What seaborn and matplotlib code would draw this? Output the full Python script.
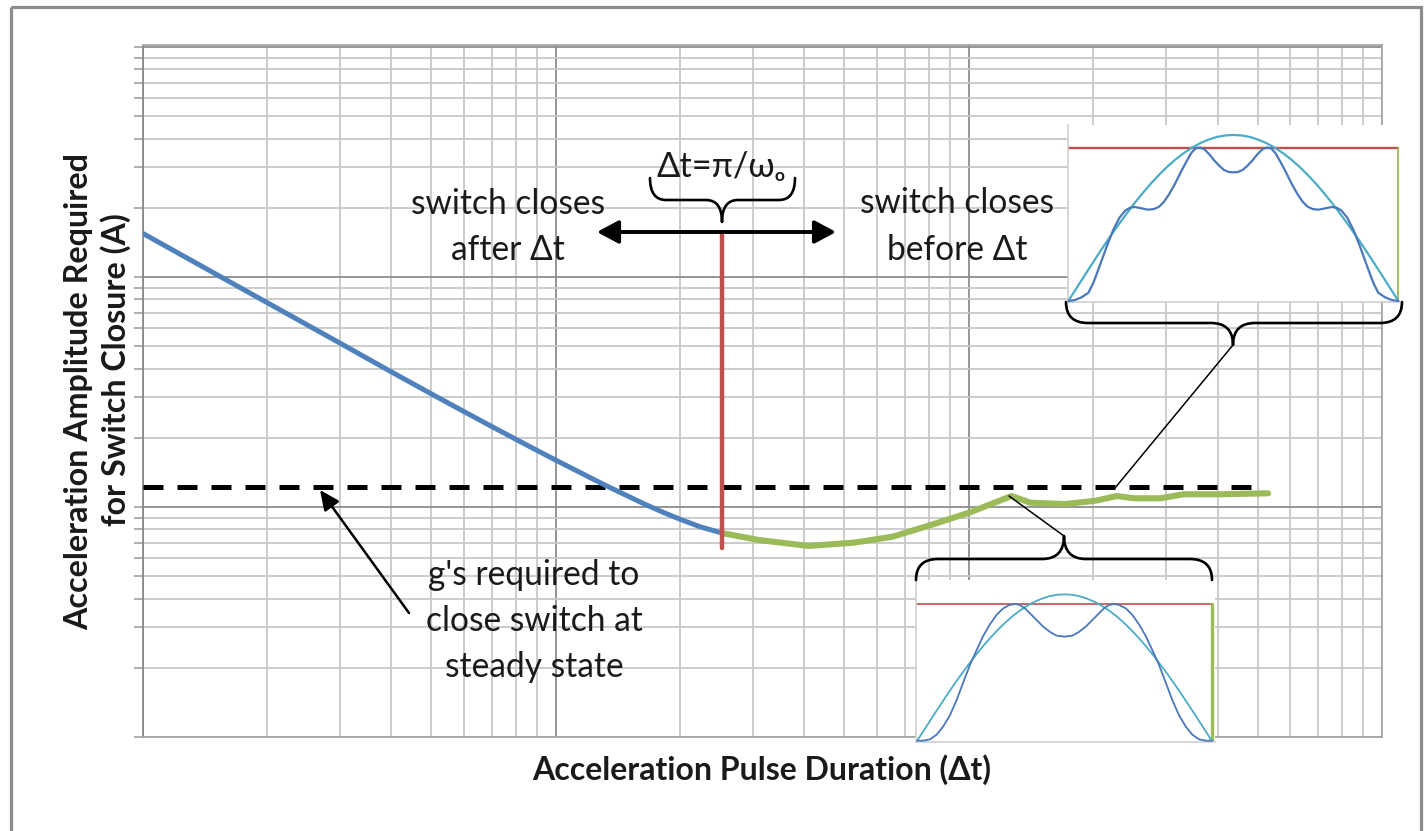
import matplotlib
matplotlib.use("Agg")
import matplotlib.pyplot as plt
import seaborn as sns
from matplotlib.path import Path
from matplotlib.patches import PathPatch, Rectangle, FancyArrowPatch, ArrowStyle
from matplotlib.lines import Line2D
from matplotlib.transforms import Affine2D
from matplotlib.ticker import LogLocator, NullFormatter

# ---------------- data ----------------
pulse_blue = [1.0, 1.516, 2.02, 3.005, 4.0, 4.99, 6.02, 7.03, 8.48, 10.0, 13.18, 16.44, 18.2, 20.05, 22.39, 25.3]
amp_blue = [155, 102.2, 76.7, 51.6, 38.7, 31.1, 25.9, 22.3, 18.66, 15.99, 12.43, 10.28, 9.48, 8.83, 8.2, 7.7]

pulse_green = [25.3, 30.95, 40.9, 52.8, 65.4, 80.9, 100.2, 126.8, 141, 171, 202.6, 228, 251, 291, 331, 410.6, 530]
amp_green = [7.7, 7.19, 6.77, 7.0, 7.43, 8.35, 9.45, 11.16, 10.44, 10.3, 10.65, 11.16, 10.91, 10.91, 11.36, 11.36, 11.47]

steady_amp = 12.25
steady_pulse = [1.0, 513]

natural_pulse = 25.3          # dt = pi / w0
natural_amp = [6.63, 155]

# inset waveforms (time fraction, normalised amplitude)
sine_t = [0, 0.025, 0.05, 0.075, 0.1, 0.125, 0.15, 0.175, 0.2, 0.225, 0.25, 0.275, 0.3, 0.325, 0.35,
          0.375, 0.4, 0.425, 0.45, 0.475, 0.5, 0.525, 0.55, 0.575, 0.6, 0.625, 0.65, 0.675, 0.7,
          0.725, 0.75, 0.775, 0.8, 0.825, 0.85, 0.875, 0.9, 0.925, 0.95, 0.975, 1.0]
sine_a = [0, 0.078, 0.156, 0.233, 0.309, 0.383, 0.454, 0.522, 0.588, 0.649, 0.707, 0.760, 0.809, 0.853,
          0.891, 0.924, 0.951, 0.972, 0.988, 0.997, 1.0, 0.997, 0.988, 0.972, 0.951, 0.924, 0.891,
          0.853, 0.809, 0.760, 0.707, 0.649, 0.588, 0.522, 0.454, 0.383, 0.309, 0.233, 0.156, 0.078, 0]

resp1_t = [0, 0.020, 0.040, 0.061, 0.076, 0.096, 0.116, 0.136, 0.155, 0.172, 0.187, 0.202, 0.222, 0.242,
           0.260, 0.275, 0.290, 0.306, 0.323, 0.340, 0.357, 0.372, 0.386, 0.399, 0.412, 0.427, 0.442,
           0.458, 0.472, 0.486, 0.5, 0.514, 0.528, 0.542, 0.558, 0.573, 0.588, 0.601, 0.614, 0.628,
           0.643, 0.660, 0.677, 0.694, 0.710, 0.725, 0.740, 0.758, 0.778, 0.798, 0.813, 0.828, 0.845,
           0.864, 0.884, 0.904, 0.924, 0.939, 0.960, 0.980, 1.0]
resp1_a = [0, 0.006, 0.022, 0.050, 0.110, 0.217, 0.327, 0.428, 0.502, 0.544, 0.562, 0.566, 0.558, 0.550,
           0.554, 0.568, 0.598, 0.645, 0.705, 0.773, 0.837, 0.890, 0.920, 0.924, 0.914, 0.884, 0.847,
           0.813, 0.789, 0.777, 0.775, 0.777, 0.789, 0.813, 0.847, 0.884, 0.914, 0.924, 0.920, 0.890,
           0.837, 0.773, 0.705, 0.645, 0.598, 0.568, 0.554, 0.550, 0.558, 0.566, 0.562, 0.544, 0.502,
           0.428, 0.327, 0.217, 0.110, 0.050, 0.022, 0.006, 0]
thresh1 = 0.924

resp2_t = [0, 0.020, 0.043, 0.066, 0.088, 0.111, 0.134, 0.156, 0.179, 0.202, 0.224, 0.247, 0.270, 0.292,
           0.313, 0.332, 0.349, 0.366, 0.383, 0.405, 0.428, 0.451, 0.473, 0.5, 0.527, 0.549, 0.572,
           0.595, 0.617, 0.634, 0.651, 0.668, 0.687, 0.708, 0.730, 0.753, 0.776, 0.798, 0.821, 0.844,
           0.866, 0.889, 0.912, 0.934, 0.957, 0.980, 1.0]
resp2_a = [0, 0, 0.009, 0.041, 0.096, 0.173, 0.278, 0.396, 0.517, 0.620, 0.715, 0.795, 0.861, 0.904,
           0.927, 0.934, 0.927, 0.904, 0.870, 0.825, 0.779, 0.743, 0.718, 0.711, 0.718, 0.743, 0.779,
           0.825, 0.870, 0.904, 0.927, 0.934, 0.927, 0.904, 0.861, 0.795, 0.715, 0.620, 0.517, 0.396,
           0.278, 0.173, 0.096, 0.041, 0.009, 0, 0]
thresh2 = 0.934

# ---------------- style ----------------
sns.set_theme(style="white")
plt.rcParams["font.family"] = ["Lato", "DejaVu Sans"]

BLUE = "#4f81bd"
GREEN = "#9bbb59"
RED = "#c0504d"
CYAN = "#4bacc6"
WAVE = "#4a78bb"

W, H = 1424, 831
fig = plt.figure(figsize=(W / 100, H / 100), dpi=100)
fig.patch.set_facecolor("white")
PX = Affine2D().scale(1 / W, -1 / H).translate(0, 1) + fig.transFigure


def rect(l, t, r, b):
    return [l / W, 1 - b / H, (r - l) / W, (b - t) / H]


# ---------------- main axes ----------------
ax = fig.add_axes(rect(142.5, 45, 1382, 737))
ax.set_xscale("log")
ax.set_yscale("log")
ax.set_xlim(1, 1000)
ax.set_ylim(1, 1020)
for a in (ax.xaxis, ax.yaxis):
    a.set_major_locator(LogLocator(base=10))
    a.set_minor_locator(LogLocator(base=10, subs=range(2, 10)))
    a.set_major_formatter(NullFormatter())
    a.set_minor_formatter(NullFormatter())
ax.grid(which="minor", color="#c8c8c8", lw=1.3)
ax.grid(which="major", color="#8e8e8e", lw=1.3)
ax.set_axisbelow(True)
ax.tick_params(axis="y", which="both", left=True, direction="out", length=6.5, width=1.1,
               color="#9a9a9a", labelleft=False)
ax.tick_params(axis="x", which="both", bottom=False, length=0, labelbottom=False)
for s in ax.spines.values():
    s.set_color("#a8a8a8")
    s.set_linewidth(1.3)
ax.spines["left"].set_color("#8a8a8a")

ax.plot(steady_pulse, [steady_amp, steady_amp], color="black", lw=3.6, dashes=(4, 2.8), zorder=3)
sns.lineplot(x=pulse_blue, y=amp_blue, ax=ax, color=BLUE, lw=3.6, sort=False, estimator=None, zorder=4,
             solid_joinstyle="round")
sns.lineplot(x=pulse_green, y=amp_green, ax=ax, color=GREEN, lw=4.4, sort=False, estimator=None, zorder=4,
             solid_joinstyle="round", solid_capstyle="round")
ax.plot([natural_pulse, natural_pulse], natural_amp, color=RED, lw=3.2, solid_capstyle="round", zorder=5)
ax.set_xlabel("")
ax.set_ylabel("")


# ---------------- insets ----------------
def inset(box, xlim, ylim, resp_t, resp_a, thr, lw_red, lw_green, lw_curve):
    ia = fig.add_axes(rect(*box))
    ia.set_facecolor("white")
    ia.set_xlim(*xlim)
    ia.set_ylim(*ylim)
    ia.set_xticks([])
    ia.set_yticks([])
    for k, s in ia.spines.items():
        if k in ("top", "right"):
            s.set_visible(False)
        else:
            s.set_color("#d0d0d0")
            s.set_linewidth(1.2)
    ia.plot([0, 1], [thr, thr], color=RED, lw=lw_red, zorder=2)
    ia.plot([1, 1], [0, thr], color=GREEN, lw=lw_green, zorder=2)
    sns.lineplot(x=sine_t, y=sine_a, ax=ia, color=CYAN, lw=lw_curve, sort=False, estimator=None, zorder=3,
                 solid_joinstyle="round")
    sns.lineplot(x=resp_t, y=resp_a, ax=ia, color=WAVE, lw=lw_curve, sort=False, estimator=None, zorder=3,
                 solid_joinstyle="round")
    ia.set_xlabel("")
    ia.set_ylabel("")
    return ia


inset((1068, 125, 1400, 302), (-0.001, 1.005), (-0.006, 1.06), resp1_t, resp1_a, thresh1, 1.7, 1.3, 1.6)
inset((916, 580, 1215, 742), (-0.004, 1.011), (-0.009, 1.098), resp2_t, resp2_a, thresh2, 1.2, 2.4, 1.3)


# ---------------- annotations (pixel layout) ----------------
def brace(xl, xr, xc, y_end, y_mid, y_tip, r):
    verts = [(xl, y_end), (xl, y_mid), (xl + r, y_mid), (xc - r, y_mid), (xc, y_mid), (xc, y_tip),
             (xc, y_mid), (xc + r, y_mid), (xr - r, y_mid), (xr, y_mid), (xr, y_end)]
    codes = [Path.MOVETO, Path.CURVE3, Path.CURVE3, Path.LINETO, Path.CURVE3, Path.CURVE3,
             Path.CURVE3, Path.CURVE3, Path.LINETO, Path.CURVE3, Path.CURVE3]
    fig.add_artist(PathPatch(Path(verts, codes), transform=PX, fc="none", ec="black", lw=1.9,
                             capstyle="round", joinstyle="round", zorder=10))


brace(650, 795, 722, 178, 200, 222, 16)
brace(1066, 1402, 1233, 302, 323, 345, 22)
brace(916, 1212, 1064, 580, 559, 536, 22)

for (x0, y0), (x1, y1) in [((1233, 345), (1115, 488)), ((1064, 536), (1009, 496))]:
    fig.add_artist(Line2D([x0, x1], [y0, y1], transform=PX, color="black", lw=1.1, zorder=10))

fig.add_artist(FancyArrowPatch((597, 232), (836, 232), transform=PX, arrowstyle=ArrowStyle(
    "<|-|>", head_length=13, head_width=7), mutation_scale=1, lw=2.8, color="black", zorder=10,
    shrinkA=0, shrinkB=0))
fig.add_artist(FancyArrowPatch((409, 613), (320, 490), transform=PX, arrowstyle=ArrowStyle(
    "-|>", head_length=12, head_width=5.5), mutation_scale=1, lw=1.8, color="black", zorder=10,
    shrinkA=0, shrinkB=0))

fig.add_artist(Rectangle((11, 7), 1410, 840, transform=PX, fc="none", ec="#8c8c8c", lw=2.3, zorder=12))


def txt(x, y, s, **kw):
    t = fig.text(x / W, 1 - y / H, s, ha="center", va="baseline", color="#1a1a1a", **kw)
    return t


def fit(t, target, dim="w"):
    r = fig.canvas.get_renderer()
    bb = t.get_window_extent(r)
    cur = bb.width if dim == "w" else bb.height
    t.set_fontsize(t.get_fontsize() * target / cur)


probe = txt(508, 214, "switch closes", fontsize=20)
fit(probe, 194)
fs = probe.get_fontsize()
txt(508, 260, "after \u0394t", fontsize=fs)
txt(957, 213, "switch closes", fontsize=fs)
txt(957, 260, "before \u0394t", fontsize=fs)
txt(534, 585, "g's required to", fontsize=fs)
txt(534, 631, "close switch at", fontsize=fs)
txt(534, 677, "steady state", fontsize=fs)
f = txt(721, 177, "\u0394t=\u03c0/\u03c9\u2092", fontsize=fs)
fit(f, 129)

xl = txt(761.5, 780, "Acceleration Pulse Duration (\u0394t)", fontsize=20, fontweight="bold")
fit(xl, 459)
y1 = fig.text(79 / W, 1 - 391 / H, "Acceleration Amplitude Required", rotation=90, ha="center",
              va="center", fontsize=20, fontweight="bold", color="#1a1a1a")
fit(y1, 478, "h")
y2 = fig.text(116 / W, 1 - 370 / H, "for Switch Closure (A)", rotation=90, ha="center",
              va="center", fontsize=y1.get_fontsize(), fontweight="bold", color="#1a1a1a")

fig.savefig("out.png", dpi=100, facecolor="white")
